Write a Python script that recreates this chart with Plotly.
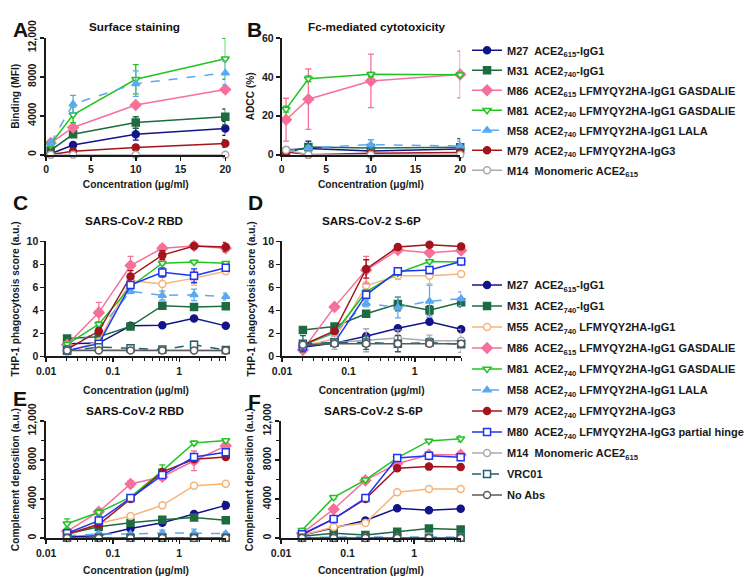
import plotly.graph_objects as go

# ---------------- data ----------------
conc_ab = [0.5, 3, 10, 20]
conc_cf = [0.0206, 0.0617, 0.185, 0.556, 1.667, 5.0]

surface = {
    "M27": [100, 1000, 2100, 2700],
    "M31": [450, 2100, 3300, 3900],
    "M86": [1200, 2800, 5100, 6700],
    "M81": [1100, 4100, 7750, 9850],
    "M58": [1200, 5200, 7300, 8400],
    "M79": [30, 350, 750, 1150],
    "M14": [0, 0, 0, 0],
}
surface_err = {
    "M27": [50, 150, 600, 700],
    "M31": [150, 250, 600, 800],
    "M86": [100, 150, 150, 200],
    "M81": [200, 800, 1500, 2100],
    "M58": [150, 900, 1300, 1200],
    "M79": [30, 100, 250, 400],
    "M14": [0, 0, 0, 0],
}

adcc = {
    "M27": [2.5, 3.2, 2.0, 3.0],
    "M31": [1.0, 4.0, 3.5, 3.8],
    "M86": [18.0, 28.5, 37.9, 41.2],
    "M81": [23.4, 39.0, 41.3, 41.1],
    "M58": [2.0, 3.5, 5.2, 4.5],
    "M79": [1.5, 0.0, 0.8, 1.2],
    "M14": [2.5, 0.0, 0.0, 0.0],
}
adcc_err = {
    "M27": [0.5, 3.8, 1.0, 1.5],
    "M31": [0.5, 1.0, 1.5, 4.5],
    "M86": [11.0, 15.5, 13.7, 12.0],
    "M81": [1.5, 1.5, 1.0, 0.8],
    "M58": [0.5, 1.0, 2.5, 2.5],
    "M79": [0.3, 0.3, 0.5, 0.5],
    "M14": [0.3, 0.0, 0.0, 0.0],
}

phago_rbd = {
    "M27": [1.1, 1.15, 2.65, 2.7, 3.3, 2.65],
    "M31": [1.55, 1.7, 2.6, 4.4, 4.3, 4.35],
    "M55": [0.4, 1.3, 6.6, 6.3, 6.8, 7.4],
    "M86": [1.0, 3.8, 7.9, 9.4, 9.6, 9.4],
    "M81": [1.05, 2.8, 6.05, 8.1, 8.2, 8.1],
    "M58": [0.6, 2.3, 5.65, 5.3, 5.35, 5.2],
    "M79": [0.6, 2.2, 6.95, 8.8, 9.6, 9.5],
    "M80": [0.5, 1.1, 6.2, 7.3, 7.0, 7.7],
    "M14": [0.55, 0.55, 0.55, 0.55, 0.5, 0.5],
    "VRC01": [0.5, 0.8, 0.7, 0.6, 1.0, 0.55],
    "NoAbs": [0.5, 0.5, 0.5, 0.5, 0.5, 0.5],
}
phago_rbd_err = {
    "M27": [0.1, 0.1, 0.1, 0.1, 0.1, 0.1],
    "M31": [0.1, 0.1, 0.1, 0.1, 0.1, 0.1],
    "M55": [0.1, 0.2, 0.3, 0.7, 0.6, 0.2],
    "M86": [0.2, 0.9, 0.8, 0.3, 0.1, 0.3],
    "M81": [0.1, 0.2, 0.2, 0.1, 0.1, 0.1],
    "M58": [0.1, 0.2, 0.2, 0.4, 0.5, 0.3],
    "M79": [0.1, 0.2, 0.5, 0.4, 0.1, 0.4],
    "M80": [0.1, 0.2, 0.2, 0.4, 0.6, 0.2],
    "M14": [0.1, 0.1, 0.1, 0.1, 0.1, 0.1],
    "VRC01": [0.1, 0.2, 0.2, 0.1, 0.3, 0.1],
    "NoAbs": [0.0, 0.0, 0.0, 0.0, 0.0, 0.0],
}

phago_s6p = {
    "M27": [0.8, 1.15, 1.75, 2.45, 3.0, 2.35],
    "M31": [2.3, 2.6, 3.7, 4.55, 4.0, 4.7],
    "M55": [0.9, 1.5, 6.15, 7.0, 7.0, 7.15],
    "M86": [0.55, 4.3, 7.5, 9.25, 9.0, 9.2],
    "M81": [0.95, 2.05, 5.6, 7.25, 8.25, 8.2],
    "M58": [1.0, 2.1, 4.6, 4.25, 4.8, 5.0],
    "M79": [1.0, 2.2, 7.6, 9.5, 9.7, 9.55],
    "M80": [0.85, 1.2, 5.35, 7.4, 7.5, 8.25],
    "M14": [1.0, 1.2, 1.4, 1.6, 1.35, 1.35],
    "VRC01": [1.1, 1.2, 1.2, 1.1, 1.2, 1.05],
    "NoAbs": [1.0, 1.1, 1.1, 1.1, 1.1, 1.1],
}
phago_s6p_err = {
    "M27": [0.1, 0.1, 0.1, 0.1, 0.1, 0.1],
    "M31": [0.2, 0.1, 0.2, 0.6, 0.4, 0.4],
    "M55": [0.1, 0.2, 0.3, 0.3, 0.7, 0.1],
    "M86": [0.2, 0.1, 1.2, 0.2, 0.1, 0.1],
    "M81": [0.1, 0.2, 0.2, 0.2, 0.1, 0.1],
    "M58": [0.2, 0.2, 0.3, 0.9, 1.4, 0.6],
    "M79": [0.2, 0.2, 0.8, 0.2, 0.1, 0.2],
    "M80": [0.1, 0.1, 0.3, 0.2, 0.3, 0.1],
    "M14": [0.2, 0.6, 1.0, 0.7, 0.5, 1.0],
    "VRC01": [0.7, 0.2, 0.6, 0.7, 0.2, 0.2],
    "NoAbs": [0.0, 0.0, 0.0, 0.0, 0.0, 0.0],
}

comp_rbd = {
    "M27": [150, 260, 980, 1570, 2480, 3360],
    "M31": [420, 1170, 1570, 1890, 2120, 1830],
    "M55": [350, 1500, 2280, 3360, 5380, 5580],
    "M86": [700, 2710, 5550, 6300, 7930, 9460],
    "M81": [1480, 2650, 4200, 6900, 9750, 10000],
    "M58": [260, 420, 420, 520, 520, 460],
    "M79": [400, 1400, 4010, 6790, 8090, 8320],
    "M80": [500, 1800, 4110, 6460, 8320, 8810],
    "M14": [50, 50, 50, 50, 50, 50],
    "VRC01": [30, 30, 30, 30, 30, 30],
    "NoAbs": [20, 20, 20, 20, 20, 20],
}
comp_rbd_err = {
    "M27": [50, 50, 100, 100, 150, 400],
    "M31": [100, 200, 150, 100, 100, 100],
    "M55": [100, 100, 100, 100, 100, 100],
    "M86": [150, 200, 350, 300, 1000, 300],
    "M81": [500, 300, 200, 600, 200, 150],
    "M58": [100, 200, 150, 300, 400, 150],
    "M79": [100, 100, 100, 200, 200, 100],
    "M80": [100, 150, 150, 200, 300, 200],
    "M14": [0, 0, 0, 0, 0, 0],
    "VRC01": [0, 0, 0, 0, 0, 0],
    "NoAbs": [0, 0, 0, 0, 0, 0],
}

comp_s6p = {
    "M27": [300, 1050, 1810, 3060, 2860, 3020],
    "M31": [200, 500, 330, 660, 990, 890],
    "M55": [300, 1150, 1550, 4700, 5030, 5030],
    "M86": [500, 2960, 5920, 7630, 8550, 8550],
    "M81": [820, 4180, 5980, 8220, 9960, 10190],
    "M58": [100, 120, 100, 100, 120, 100],
    "M79": [350, 1970, 4010, 7170, 7330, 7300],
    "M80": [400, 1970, 4110, 8220, 8450, 8290],
    "M14": [40, 40, 40, 40, 40, 40],
    "VRC01": [30, 30, 30, 30, 30, 30],
    "NoAbs": [20, 20, 20, 20, 20, 20],
}
comp_s6p_err = {
    "M27": [50, 100, 100, 100, 100, 100],
    "M31": [50, 100, 100, 100, 150, 100],
    "M55": [50, 100, 100, 250, 100, 100],
    "M86": [50, 100, 100, 150, 150, 150],
    "M81": [100, 150, 100, 150, 150, 300],
    "M58": [50, 50, 50, 50, 50, 50],
    "M79": [50, 100, 100, 150, 150, 100],
    "M80": [50, 100, 100, 150, 150, 150],
    "M14": [0, 0, 0, 0, 0, 0],
    "VRC01": [0, 0, 0, 0, 0, 0],
    "NoAbs": [0, 0, 0, 0, 0, 0],
}

names = {
    "M27": "M27\u00a0 ACE2<sub>615</sub>-IgG1",
    "M31": "M31\u00a0 ACE2<sub>740</sub>-IgG1",
    "M55": "M55\u00a0 ACE2<sub>740</sub> LFMYQY2HA-IgG1",
    "M86": "M86\u00a0 ACE2<sub>615</sub> LFMYQY2HA-IgG1 GASDALIE",
    "M81": "M81\u00a0 ACE2<sub>740</sub> LFMYQY2HA-IgG1 GASDALIE",
    "M58": "M58\u00a0 ACE2<sub>740</sub> LFMYQY2HA-IgG1 LALA",
    "M79": "M79\u00a0 ACE2<sub>740</sub> LFMYQY2HA-IgG3",
    "M80": "M80\u00a0 ACE2<sub>740</sub> LFMYQY2HA-IgG3 partial hinge",
    "M14": "M14\u00a0 Monomeric ACE2<sub>615</sub>",
    "VRC01": "VRC01",
    "NoAbs": "No Abs",
}

# ---------------- styles ----------------
style = {
    "M27": dict(color="#14148a", symbol="circle", open=False, dash="solid"),
    "M31": dict(color="#1e6b42", symbol="square", open=False, dash="solid"),
    "M55": dict(color="#f6b37a", symbol="circle", open=True, dash="solid"),
    "M86": dict(color="#f7709a", symbol="diamond", open=False, dash="solid"),
    "M81": dict(color="#22c422", symbol="triangle-down", open=True, dash="solid"),
    "M58": dict(color="#5aa9f2", symbol="triangle-up", open=False, dash="dash"),
    "M79": dict(color="#a3141b", symbol="circle", open=False, dash="solid"),
    "M80": dict(color="#1f35f5", symbol="square", open=True, dash="solid"),
    "M14": dict(color="#ababab", symbol="circle", open=True, dash="solid"),
    "VRC01": dict(color="#245f6e", symbol="square", open=True, dash="dash"),
    "NoAbs": dict(color="#5a5a5a", symbol="circle", open=True, dash="solid"),
}

FONT = "Liberation Sans, Arial, sans-serif"
fig = go.Figure()


def add(xs, data, err, order, xa, ya, legend_name=None, tag=""):
    for k in order:
        s = style[k]
        marker = dict(symbol=s["symbol"], size=7 if s["symbol"] != "diamond" else 8,
                      color="white" if s["open"] else s["color"],
                      line=dict(color=s["color"], width=1.5))
        fig.add_trace(go.Scatter(
            x=xs, y=data[k], mode="lines+markers", name=names[k],
            line=dict(color=s["color"], width=1.5, dash=s["dash"]),
            marker=marker,
            error_y=dict(type="data", array=err[k], color=s["color"], thickness=1.3, width=3),
            xaxis=xa, yaxis=ya, cliponaxis=False,
            showlegend=legend_name is not None,
            legend=legend_name if legend_name else "legend",
            legendgroup=tag + k,
        ))


leg1 = ["M27", "M31", "M86", "M81", "M58", "M79", "M14"]
leg2 = ["M27", "M31", "M55", "M86", "M81", "M58", "M79", "M80", "M14", "VRC01", "NoAbs"]

add(conc_ab, surface, surface_err, leg1, "x", "y", "legend", "a_")
add(conc_ab, adcc, adcc_err, leg1, "x2", "y2", None, "b_")
add(conc_cf, phago_rbd, phago_rbd_err, leg2, "x3", "y3", "legend2", "c_")
add(conc_cf, phago_s6p, phago_s6p_err, leg2, "x4", "y4", None, "d_")
add(conc_cf, comp_rbd, comp_rbd_err, leg2, "x5", "y5", None, "e_")
add(conc_cf, comp_s6p, comp_s6p_err, leg2, "x6", "y6", None, "f_")

W, H = 750, 578


def px(a, b):
    return [a / W, b / W]


def py(top, bottom):
    return [1 - bottom / H, 1 - top / H]


axis_common = dict(showline=True, linecolor="#1a1a1a", linewidth=1.8, ticks="outside",
                   ticklen=4, tickwidth=1.5, tickcolor="#1a1a1a", showgrid=False, zeroline=False,
                   tickfont=dict(family=FONT, size=10.5, color="#1a1a1a", weight="bold"),
                   title_font=dict(family=FONT, size=10.2, color="#1a1a1a", weight="bold"))

xt = "Concentration (\u03bcg/ml)"
lin_x = dict(range=[0, 20], tickvals=[0, 5, 10, 15, 20], title=dict(text=xt, standoff=7))


def log_x(standoff):
    return dict(type="log", range=[-2, 0.699], tickvals=[0.01, 0.1, 1], ticktext=["0.01", "0.1", "1"],
                minor=dict(ticks="outside", ticklen=2.5, tickwidth=1, tickcolor="#1a1a1a",
                           tickvals=[0.02, 0.03, 0.04, 0.05, 0.06, 0.07, 0.08, 0.09,
                                     0.2, 0.3, 0.4, 0.5, 0.6, 0.7, 0.8, 0.9, 2, 3, 4, 5]),
                title=dict(text=xt, standoff=standoff))


big_y = dict(range=[0, 12000], tickvals=[0, 4000, 8000, 12000],
             ticktext=["0", "4000", "8000", "12,000"], tickangle=-90)
y_minor = dict(ticks="outside", ticklen=3, tickwidth=1.2, tickcolor="#1a1a1a",
               tickvals=[2000, 6000, 10000])
legend_font = dict(family=FONT, size=11, color="#1a1a1a", weight="bold")

fig.update_layout(
    width=W, height=H, margin=dict(l=0, r=0, t=0, b=0),
    paper_bgcolor="white", plot_bgcolor="white",
    font=dict(family=FONT, color="#1a1a1a"),
    xaxis=dict(axis_common, domain=px(37, 220), anchor="y", **lin_x),
    yaxis=dict(axis_common, domain=py(20.7, 142.7), anchor="x", **big_y,
               title=dict(text="Binding (MFI)", standoff=5)),
    xaxis2=dict(axis_common, domain=px(277.5, 460), anchor="y2", **lin_x),
    yaxis2=dict(axis_common, domain=py(20.7, 142.7), anchor="x2", range=[0, 60],
                tickvals=[0, 20, 40, 60], title=dict(text="ADCC (%)", standoff=5)),
    xaxis3=dict(axis_common, domain=px(37, 220.5), anchor="y3", **log_x(11)),
    yaxis3=dict(axis_common, domain=py(233, 353), anchor="x3", range=[0, 10],
                tickvals=[0, 2, 4, 6, 8, 10],
                title=dict(text="THP-1 phagocytosis score (a.u.)", standoff=5)),
    xaxis4=dict(axis_common, domain=px(278, 461), anchor="y4", **log_x(11)),
    yaxis4=dict(axis_common, domain=py(233, 353), anchor="x4", range=[0, 10],
                tickvals=[0, 2, 4, 6, 8, 10],
                title=dict(text="THP-1 phagocytosis score (a.u.)", standoff=5)),
    xaxis5=dict(axis_common, domain=px(37, 220.5), anchor="y5", **log_x(9)),
    yaxis5=dict(axis_common, domain=py(420.5, 542.7), anchor="x5", **big_y, minor=y_minor,
                title=dict(text="Complement deposition (a.u.)", standoff=5)),
    xaxis6=dict(axis_common, domain=px(277, 460.5), anchor="y6", **log_x(9)),
    yaxis6=dict(axis_common, domain=py(420.5, 542.7), anchor="x6", **big_y, minor=y_minor,
                title=dict(text="Complement deposition (a.u.)", standoff=5)),
    legend=dict(x=467 / W, y=1 - 18.5 / H, xanchor="left", yanchor="top", bgcolor="rgba(0,0,0,0)",
                font=legend_font, traceorder="grouped", tracegroupgap=1, itemclick=False),
    legend2=dict(x=467 / W, y=1 - 263.5 / H, xanchor="left", yanchor="top", bgcolor="rgba(0,0,0,0)",
                 font=legend_font, traceorder="grouped", tracegroupgap=2, itemclick=False),
)

# panel letters and titles
letters = [("A", 1, 12.5), ("B", 240, 12.5), ("C", 1, 192.5), ("D", 241, 192.5),
           ("E", 1, 397.5), ("F", 241, 400)]
for t, x, y in letters:
    fig.add_annotation(text=t, x=x / W, y=1 - y / H, xref="paper", yref="paper",
                       xanchor="left", yanchor="middle", showarrow=False,
                       font=dict(family=FONT, size=21, color="#111", weight="bold"))

titles = [("Surface staining", 127.5, 9), ("Fc-mediated cytotoxicity", 375, 9),
          ("SARS-CoV-2 RBD", 127, 211), ("SARS-CoV-2 S-6P", 369, 211),
          ("SARS-CoV-2 RBD", 128, 410), ("SARS-CoV-2 S-6P", 371, 410)]
for t, x, y in titles:
    fig.add_annotation(text=t, x=x / W, y=1 - y / H, xref="paper", yref="paper",
                       xanchor="center", yanchor="middle", showarrow=False,
                       font=dict(family=FONT, size=11.7, color="#111", weight="bold"))

fig.write_html("out.html", config={"displayModeBar": False, "staticPlot": True},
               post_script="document.body.style.margin='0px';")
